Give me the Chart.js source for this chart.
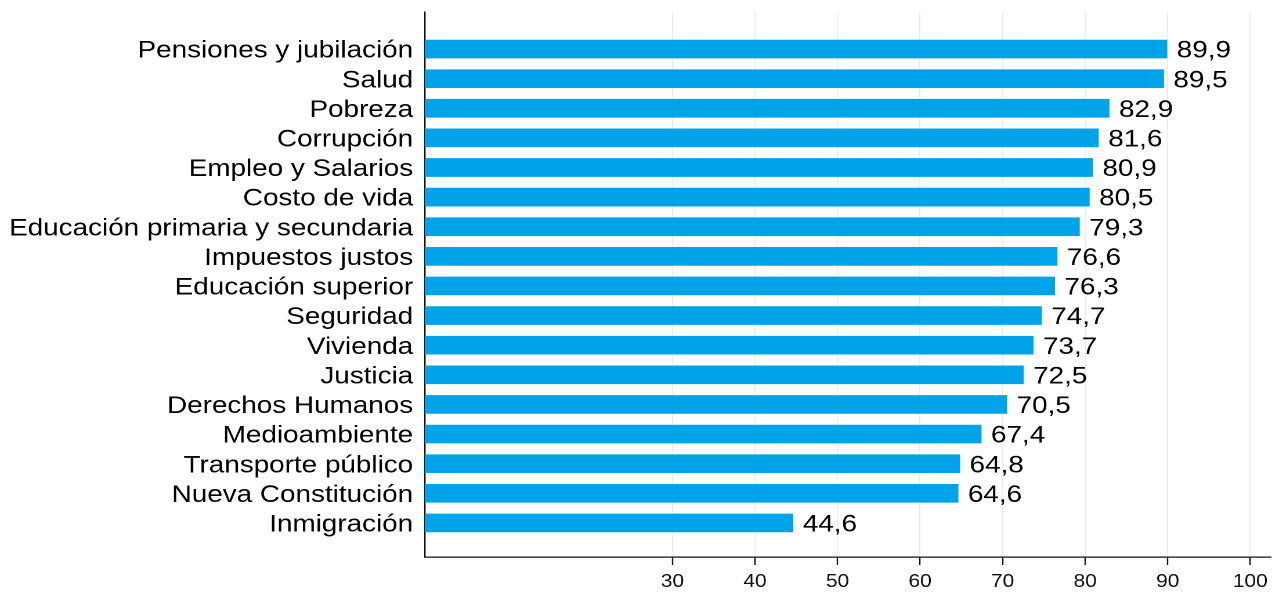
<!DOCTYPE html>
<html>
<head>
<meta charset="utf-8">
<script src="https://cdn.jsdelivr.net/npm/chart.js@4.4.0/dist/chart.umd.min.js"></script>
<style>
  html, body { margin: 0; padding: 0; background: #fff; overflow: hidden; }
  /* the reference is stretched horizontally, so the chart is drawn narrower and widened */
  #wrap { width: 1096px; height: 593px; transform: scaleX(1.1606); transform-origin: 0 0; }
</style>
</head>
<body>
<div id="wrap"><canvas id="chart" width="1096" height="593"></canvas></div>
<script>
var categories = [
  'Pensiones y jubilación', 'Salud', 'Pobreza', 'Corrupción', 'Empleo y Salarios',
  'Costo de vida', 'Educación primaria y secundaria', 'Impuestos justos', 'Educación superior',
  'Seguridad', 'Vivienda', 'Justicia', 'Derechos Humanos', 'Medioambiente',
  'Transporte público', 'Nueva Constitución', 'Inmigración'
];
var values = [89.9, 89.5, 82.9, 81.6, 80.9, 80.5, 79.3, 76.6, 76.3, 74.7, 73.7, 72.5, 70.5, 67.4, 64.8, 64.6, 44.6];
var xTicks = [30, 40, 50, 60, 70, 80, 90, 100];

var FONT = '"Liberation Sans", Arial, sans-serif';

var valueLabels = {
  id: 'valueLabels',
  afterDatasetsDraw: function (chart) {
    var ctx = chart.ctx;
    var meta = chart.getDatasetMeta(0);
    ctx.save();
    ctx.font = '24px ' + FONT;
    ctx.fillStyle = '#000';
    ctx.textAlign = 'left';
    ctx.textBaseline = 'middle';
    meta.data.forEach(function (bar, i) {
      ctx.fillText(values[i].toFixed(1).replace('.', ','), bar.x + 8.5, bar.y + 2);
    });
    ctx.restore();
  }
};

new Chart(document.getElementById('chart'), {
  type: 'bar',
  data: {
    datasets: [{
      data: values.map(function (v, i) { return { x: v, y: i }; }),
      backgroundColor: '#00a2e8',
      borderWidth: 0,
      barThickness: 18
    }]
  },
  options: {
    indexAxis: 'y',
    responsive: false,
    devicePixelRatio: 2,
    animation: false,
    layout: { padding: { top: 12, right: 1, bottom: 0, left: 0 } },
    plugins: { legend: { display: false }, tooltip: { enabled: false } },
    scales: {
      x: {
        type: 'linear',
        min: 0,
        max: 102.5,
        afterBuildTicks: function (s) { s.ticks = xTicks.map(function (v) { return { value: v }; }); },
        afterFit: function (s) { s.height = 36; s.paddingLeft = 0; s.paddingRight = 0; },
        grid: { color: '#e6eef2', lineWidth: 1, tickColor: '#111', tickLength: 8, tickWidth: 1.2 },
        border: { color: '#111', width: 1.2 },
        ticks: { font: { family: FONT, size: 18 }, color: '#111', padding: 6, maxRotation: 0 }
      },
      y: {
        type: 'linear',
        reverse: true,
        offset: false,
        min: -1.25,
        max: 17.15,
        afterBuildTicks: function (s) { s.ticks = categories.map(function (c, i) { return { value: i }; }); },
        afterFit: function (s) { s.width = 366; s.paddingTop = 0; s.paddingBottom = 0; },
        grid: { display: false, drawTicks: false, offset: false },
        border: { color: '#111', width: 1.2 },
        ticks: {
          autoSkip: false,
          font: { family: FONT, size: 24 },
          color: '#000',
          padding: 10,
          labelOffset: 2,
          callback: function (v) { return categories[v]; }
        }
      }
    }
  },
  plugins: [valueLabels]
});
</script>
</body>
</html>
